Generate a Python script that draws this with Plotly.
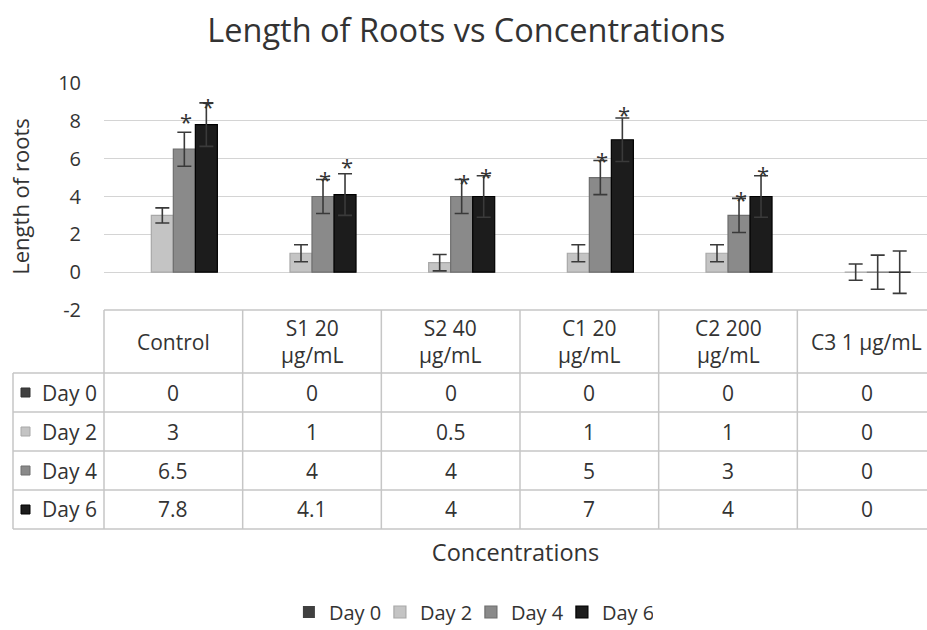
import plotly.graph_objects as go

# ---------------- data ----------------
categories = ["Control", "S1 20 µg/mL", "S2 40 µg/mL", "C1 20 µg/mL", "C2 200 µg/mL", "C3 1 µg/mL"]
header_labels = ["Control", "S1 20<br>µg/mL", "S2 40<br>µg/mL", "C1 20<br>µg/mL", "C2 200<br>µg/mL", "C3 1 µg/mL"]
series_names = ["Day 0", "Day 2", "Day 4", "Day 6"]
day0 = [0, 0, 0, 0, 0, 0]
day2 = [3, 1, 0.5, 1, 1, 0]
day4 = [6.5, 4, 4, 5, 3, 0]
day6 = [7.8, 4.1, 4, 7, 4, 0]
err_day0 = [0, 0, 0, 0, 0, 0]
err_day2 = [0.4, 0.45, 0.43, 0.45, 0.45, 0.43]
err_day4 = [0.9, 0.9, 0.9, 0.9, 0.9, 0.9]
err_day6 = [1.15, 1.1, 1.1, 1.15, 1.1, 1.12]
star_day4 = [8.26, 5.2, 5.05, 6.22, 4.15, None]
star_day6 = [9.06, 5.87, 5.34, 8.6, 5.43, None]
y_ticks = [-2, 0, 2, 4, 6, 8, 10]
y_tick_labels = ["-2", "0", "2", "4", "6", "8", "10"]

# ---------------- styling / geometry ----------------
W, H = 927, 630
ML, MR, MT, MB = 104, 0, 83, 320
X_RANGE = [-0.5, 5.435]
Y_RANGE = [-2, 10]
BARGAP = 0.365
FONT = "Open Sans"
TXT = "#333333"
GRID = "#d4d4d4"
TLINE = "#c6c6c6"

fills = ["#404040", "#c4c4c4", "#8a8a8a", "#1c1c1c"]
outlines = ["#404040", "#a8a8a8", "#6e6e6e", "#000000"]

values = [day0, day2, day4, day6]
errors = [err_day0, err_day2, err_day4, err_day6]

plot_w = W - ML - MR
plot_h = H - MT - MB


def cat_px(c):
    return ML + (c - X_RANGE[0]) / (X_RANGE[1] - X_RANGE[0]) * plot_w


def paper_x(px):
    return (px - ML) / plot_w


def paper_y(py):
    return (H - MB - py) / plot_h


fig = go.Figure()
for k, name in enumerate(series_names):
    fig.add_trace(go.Bar(
        name=name,
        x=list(range(len(categories))),
        y=values[k],
        marker=dict(color=fills[k], line=dict(color=outlines[k], width=0 if k == 0 else 1.2)),
        error_y=dict(type="data", array=errors[k], visible=(k != 0),
                     color="#3a3a3a", thickness=1.6, width=7),
        hovertext=categories,
    ))

# asterisks above Day 4 / Day 6 bars
n_series = len(series_names)
bar_w = (1 - BARGAP) / n_series
annotations = []
for k, stars in ((2, star_day4), (3, star_day6)):
    off = (k - (n_series - 1) / 2) * bar_w
    for i, sy in enumerate(stars):
        if sy is None:
            continue
        annotations.append(dict(x=i + off, y=sy, xref="x", yref="y", text="*",
                                showarrow=False, yshift=-5, xshift=2,
                                font=dict(family=FONT, size=22, color=TXT)))

# ---------------- data table below plot ----------------
table_top = H - MB
header_bot = 373
row_h = 39
row_tops = [header_bot + r * row_h for r in range(len(series_names) + 1)]
label_left = 13
x_right = W + 10
shapes = []
line_style = dict(color=TLINE, width=1.5)
# horizontal lines
shapes.append(dict(type="line", xref="paper", yref="paper",
                   x0=paper_x(ML), x1=paper_x(x_right), y0=paper_y(table_top), y1=paper_y(table_top), line=line_style))
for yt in row_tops:
    shapes.append(dict(type="line", xref="paper", yref="paper",
                       x0=paper_x(label_left), x1=paper_x(x_right), y0=paper_y(yt), y1=paper_y(yt), line=line_style))
# vertical lines
shapes.append(dict(type="line", xref="paper", yref="paper",
                   x0=paper_x(label_left), x1=paper_x(label_left),
                   y0=paper_y(header_bot), y1=paper_y(row_tops[-1]), line=line_style))
for i in range(len(categories) + 1):
    bx = cat_px(i - 0.5)
    shapes.append(dict(type="line", xref="paper", yref="paper", x0=paper_x(bx), x1=paper_x(bx),
                       y0=paper_y(table_top), y1=paper_y(row_tops[-1]), line=line_style))

cell_font = dict(family=FONT, size=21, color=TXT)
# header cells
for i, lab in enumerate(header_labels):
    annotations.append(dict(x=i, xref="x", y=paper_y((table_top + header_bot) / 2), yref="paper",
                            text=lab, showarrow=False, font=cell_font, yanchor="middle"))
# rows
for r, name in enumerate(series_names):
    cy = row_tops[r] + row_h / 2
    shapes.append(dict(type="rect", xref="paper", yref="paper",
                       x0=paper_x(21), x1=paper_x(30), y0=paper_y(cy - 4.5), y1=paper_y(cy + 4.5),
                       fillcolor=fills[r], line=dict(color=outlines[r] if r else "#303030", width=1)))
    annotations.append(dict(x=paper_x(40), xref="paper", xanchor="left", y=paper_y(cy), yref="paper",
                            text=name, showarrow=False, font=cell_font, yanchor="middle"))
    for i, v in enumerate(values[r]):
        annotations.append(dict(x=i, xref="x", y=paper_y(cy), yref="paper", text=f"{v:g}",
                                showarrow=False, font=cell_font, yanchor="middle"))

fig.update_layout(
    width=W, height=H,
    margin=dict(l=ML, r=MR, t=MT, b=MB, pad=0, autoexpand=False),
    paper_bgcolor="white", plot_bgcolor="white",
    font=dict(family=FONT, color=TXT),
    barmode="group", bargap=BARGAP, bargroupgap=0,
    title=dict(text="Length of Roots vs Concentrations", x=0.503, xanchor="center",
               y=1 - 31 / H, yanchor="middle", yref="container",
               font=dict(family=FONT, size=32.5, color=TXT)),
    xaxis=dict(range=X_RANGE, showticklabels=False, showgrid=False, zeroline=False, showline=False,
               ticks="", title=dict(text="Concentrations", standoff=234,
                                    font=dict(family=FONT, size=23.5, color=TXT))),
    yaxis=dict(range=Y_RANGE, tickvals=y_ticks, ticktext=y_tick_labels, showgrid=True,
               gridcolor=GRID, gridwidth=1.3,
               zeroline=False, showline=False, ticks="", ticklabelstandoff=22,
               tickfont=dict(family=FONT, size=20, color=TXT),
               title=dict(text="Length of roots", standoff=22,
                          font=dict(family=FONT, size=22, color=TXT))),
    showlegend=True,
    legend=dict(orientation="h", xref="container", yref="paper", x=0.508, xanchor="center",
                y=paper_y(612), yanchor="middle", font=dict(family=FONT, size=20, color=TXT),
                traceorder="normal", entrywidth=46, entrywidthmode="pixels"),
    shapes=shapes,
    annotations=annotations,
)

fig.write_html("out.html", config={"displayModeBar": False},
               post_script="document.body.style.margin='0';")
